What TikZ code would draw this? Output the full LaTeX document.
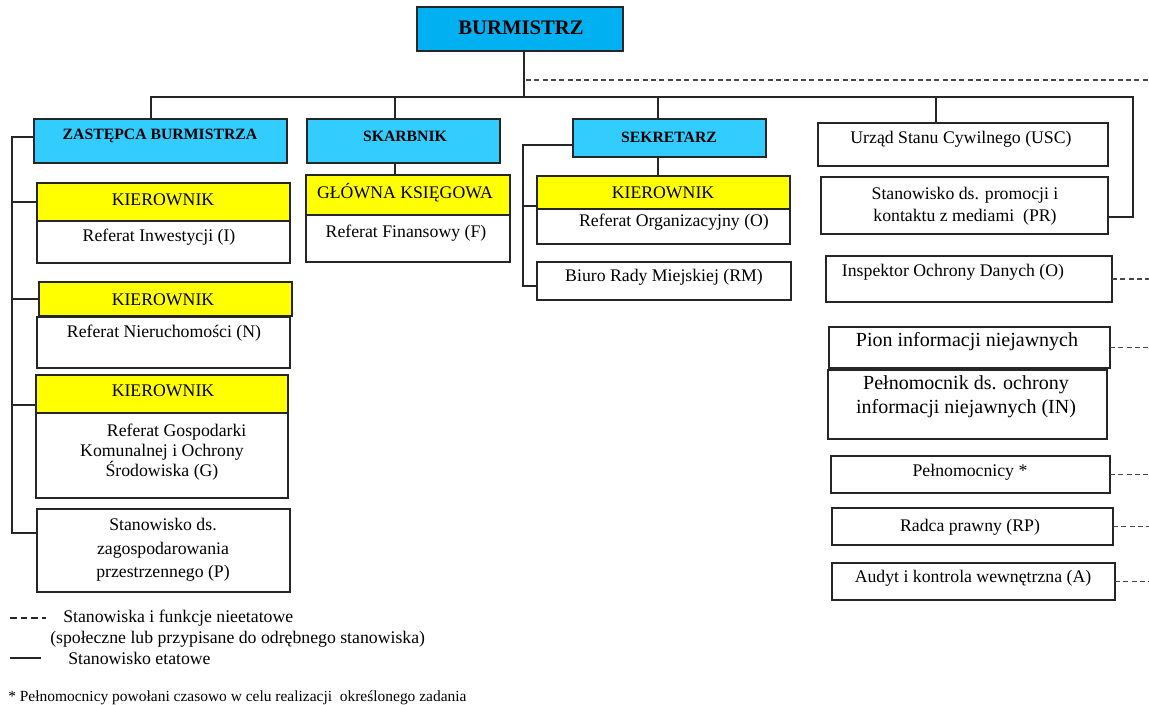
\documentclass[tikz,border=0pt]{standalone}
\usepackage{fontspec}
\setmainfont{Liberation Serif}
\usetikzlibrary{fit}
\definecolor{cyanD}{HTML}{00B0F0}
\definecolor{cyanL}{HTML}{33CCFF}
\definecolor{yel}{HTML}{FFFF00}
\definecolor{lin}{HTML}{262626}
\newcommand{\obox}[6]{\node[#2, fit={(#3,#4) (#5,#6)}] (#1) {};}
\begin{document}
\begin{tikzpicture}[x=0.75pt,y=-0.75pt,
  bx/.style={draw=lin, line width=1pt, inner sep=0pt, outer sep=0pt},
  bD/.style={bx, fill=cyanD},
  bL/.style={bx, fill=cyanL},
  bY/.style={bx, fill=yel},
  bW/.style={bx, fill=white},
  conn/.style={draw=lin, line width=0.9pt},
  dconn/.style={draw=lin!85, line width=0.9pt, dash pattern=on 3.75pt off 2.5pt},
  txt/.style={inner sep=0pt, text=black, align=center, font=\fontsize{13.3}{16.5}\selectfont},
  big/.style={inner sep=0pt, text=black, align=center, font=\fontsize{15}{17.8}\selectfont},
  hd/.style={inner sep=0pt, text=black, font=\fontsize{11.8}{14}\selectfont\bfseries},
  lg/.style={inner sep=0pt, text=black, anchor=west, font=\fontsize{13.3}{16}\selectfont}]
\useasboundingbox (0,0) rectangle (1149,704);
\fill[white] (0,0) rectangle (1149,704);

% boxes
\obox{burm}{bD}{417}{7}{623}{51}
\obox{zb}{bL}{34}{119}{287}{163}
\obox{skarb}{bL}{307}{119}{500}{163}
\obox{sek}{bL}{573}{119}{766}{157}
\obox{usc}{bW}{818}{123}{1108}{166}
\obox{pr}{bW}{821}{177}{1108}{234}
\obox{gk}{bY}{306}{175}{510}{215}
\obox{rf}{bW}{306}{215}{510}{262}
\obox{ki}{bY}{37}{183}{290}{221}
\obox{ri}{bW}{37}{221}{290}{263}
\obox{ks}{bY}{537}{176}{790}{209}
\obox{ro}{bW}{537}{209}{790}{244}
\obox{brm}{bW}{537}{262}{791}{300}
\obox{kn}{bY}{39}{282}{292}{316}
\obox{rn}{bW}{37}{317}{290}{368}
\obox{kg}{bY}{36}{375}{288}{413}
\obox{rg}{bW}{36}{413}{288}{498}
\obox{sp}{bW}{37}{509}{290}{592}
\obox{iod}{bW}{826}{256}{1112}{302}
\obox{pion}{bW}{829}{327}{1110}{368}
\obox{pin}{bW}{828}{370}{1107}{439}
\obox{peln}{bW}{831}{456}{1110}{493}
\obox{radca}{bW}{832}{508}{1113}{545}
\obox{audyt}{bW}{832}{563}{1115}{600}

% texts
\node[inner sep=0pt, font=\fontsize{15.5}{18}\selectfont\bfseries] (burmt) at (521,28) {BURMISTRZ};
\node[hd] (zbt) at (160,136) {ZASTĘPCA BURMISTRZA};
\node[hd] (skarbt) at (405,136) {SKARBNIK};
\node[hd] (sekt) at (669,137) {SEKRETARZ};
\node[txt] (usct) at (961,139) {Urząd Stanu Cywilnego (USC)};
\node[txt, font=\fontsize{13.3}{16.7}\selectfont] (prt) at (965,206) {Stanowisko ds. promocji i\\kontaktu z mediami~~(PR)};
\node[txt] (gkt) at (405,193) {GŁÓWNA KSIĘGOWA};
\node[txt] (rft) at (406,233) {Referat Finansowy (F)};
\node[txt] (kit) at (163,200) {KIEROWNIK};
\node[txt] (rit) at (159,237) {Referat Inwestycji (I)};
\node[txt] (kst) at (663,193) {KIEROWNIK};
\node[txt] (rot) at (674,222) {Referat Organizacyjny (O)};
\node[txt] (brmt) at (664,277) {Biuro Rady Miejskiej (RM)};
\node[txt] (knt) at (163,300) {KIEROWNIK};
\node[txt] (rnt) at (164,333) {Referat Nieruchomości (N)};
\node[txt] (kgt) at (163,391) {KIEROWNIK};
\node[txt, font=\fontsize{13.3}{14.8}\selectfont] (rgt) at (162,452) {\hspace*{22pt}Referat Gospodarki\\Komunalnej i Ochrony\\Środowiska (G)};
\node[txt, font=\fontsize{13.3}{17.5}\selectfont] (spt) at (163,550) {Stanowisko ds.\\zagospodarowania\\przestrzennego (P)};
\node[txt] (iodt) at (953,272) {Inspektor Ochrony Danych (O)};
\node[big] (piont) at (967,342) {Pion informacji niejawnych};
\node[big] (pint) at (966,397) {Pełnomocnik ds. ochrony\\informacji niejawnych (IN)};
\node[txt] (pelnt) at (970,472) {Pełnomocnicy~*};
\node[txt] (radcat) at (970,527) {Radca prawny (RP)};
\node[txt] (audytt) at (973,578) {Audyt i kontrola wewnętrzna (A)};

% connectors
\coordinate (hL) at (151,97);
\coordinate (hR) at (1133,97);
\coordinate (prj) at (1133,217);
\coordinate (bj) at (524,97);
\coordinate (d2) at (395,97);
\coordinate (d3) at (658,97);
\coordinate (d4) at (936,97);
\coordinate (ds) at (526,80);
\coordinate (edge) at (1152,0);
\draw[conn] (burm.south -| bj) -- (bj);
\draw[conn] (zb.north -| hL) -- (hL) -- (hR) -- (prj) -- (pr.east |- prj);
\draw[conn] (d2) -- (skarb.north -| d2);
\draw[conn] (d3) -- (sek.north -| d3);
\draw[conn] (d4) -- (usc.north -| d4);
\draw[conn] (skarb.south -| d2) -- (gk.north -| d2);
\draw[conn] (sek.south -| d3) -- (ks.north -| d3);
\draw[dconn] (ds) -- (ds -| edge);

\coordinate (zt) at (12,137);
\coordinate (zbot) at (12,533);
\coordinate (zg) at (12,405);
\draw[conn] (zb.west |- zt) -- (zt) -- (zbot) -- (sp.west |- zbot);
\draw[conn] (ki.west -| zbot) -- (ki.west);
\draw[conn] (kn.west -| zbot) -- (kn.west);
\draw[conn] (zg) -- (kg.west |- zg);

\coordinate (st) at (523,145);
\coordinate (sbot) at (523,286);
\coordinate (sk) at (523,206);
\draw[conn] (sek.west |- st) -- (st) -- (sbot) -- (brm.west |- sbot);
\draw[conn] (sk) -- (ks.west |- sk);

\draw[dconn] (iod.east) -- (iod.east -| edge);
\draw[dconn] (pion.east) -- (pion.east -| edge);
\draw[dconn] (peln.east) -- (peln.east -| edge);
\draw[dconn] (radca.east) -- (radca.east -| edge);
\draw[dconn] (audyt.east) -- (audyt.east -| edge);

% legend
\draw[conn, dash pattern=on 5pt off 3pt] (10,618) -- (46,618);
\node[lg] (l1) at (63,618) {Stanowiska i funkcje nieetatowe};
\node[lg] (l2) at (50,639) {(społeczne lub przypisane do odrębnego stanowiska)};
\draw[conn] (10,658) -- (41,658);
\node[lg] (l3) at (68,658) {Stanowisko etatowe};
\node[lg, font=\fontsize{11.6}{14}\selectfont] (fn) at (8,698) {* Pełnomocnicy powołani czasowo w celu realizacji~~określonego zadania};
\end{tikzpicture}
\end{document}
